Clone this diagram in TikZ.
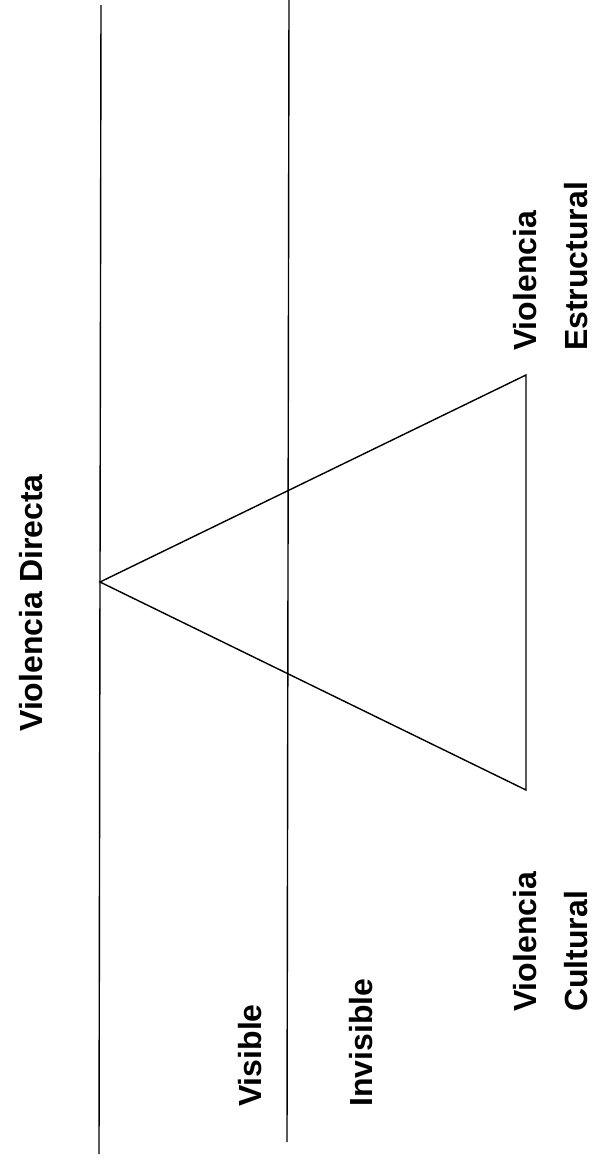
\documentclass[tikz,border=0pt]{standalone}
\usepackage{fontspec}
\setmainfont{Liberation Sans}
\begin{document}
\begin{tikzpicture}[x=1pt,y=-1pt,
  lbl/.style={rotate=90,inner sep=0pt,font=\fontsize{32}{38}\selectfont\bfseries},
  ln/.style={line width=1.4pt,black}]
\useasboundingbox (0,0) rectangle (592,1163);
% vertical lines
\coordinate (l1t) at (101,5);
\coordinate (l1b) at (99,1154);
\coordinate (l2t) at (289,0);
\coordinate (l2b) at (287,1142);
\draw[ln] (l1t) -- (l1b);
\draw[ln] (l2t) -- (l2b);
% triangle
\coordinate (apex) at (100,582);
\coordinate (tr) at (526,375);
\coordinate (br) at (526,790);
\draw[ln,line join=miter] (apex) -- (tr) -- (br) -- cycle;
% labels
\node[lbl,anchor=base] (directa) at (42,603) {Violencia Directa};
\node[lbl,anchor=base west] (v1) at (536,351) {Violencia};
\node[lbl,anchor=base west] (estr) at (587,351) {Estructural};
\node[lbl,anchor=base west] (v2) at (536,1012) {Violencia};
\node[lbl,anchor=base west] (cult) at (587,1012) {Cultural};
\node[lbl,anchor=base west] (vis) at (261,1107) {Visible};
\node[lbl,anchor=base west] (invis) at (372,1107) {Invisible};
\end{tikzpicture}
\end{document}
